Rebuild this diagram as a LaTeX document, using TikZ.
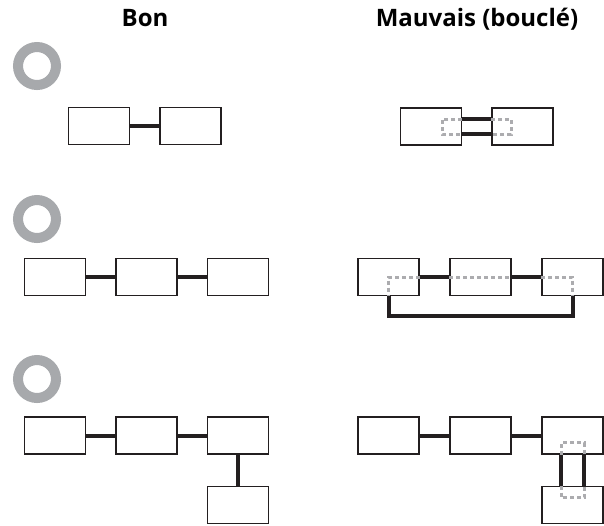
\documentclass[tikz,border=0pt]{standalone}
\usepackage{fontspec}
\setmainfont{Open Sans}
\usepackage{tikz}
\usetikzlibrary{positioning,calc}
\definecolor{ringgray}{RGB}{167,169,172}
\definecolor{loopgray}{RGB}{172,172,175}
\definecolor{linedark}{RGB}{35,31,32}

\begin{document}
\begin{tikzpicture}[x=1pt,y=-1pt,
    box/.style={draw=linedark,line width=1.6pt,fill=white,rectangle,
      minimum width=61pt,minimum height=37pt,inner sep=0pt},
    link/.style={draw=linedark,line width=4pt},
    loopline/.style={draw=loopgray,line width=3pt,dash pattern=on 4pt off 3pt},
    ring/.style={draw=ringgray,line width=10pt},
    heading/.style={font=\bfseries\fontsize{24}{28}\selectfont,anchor=base}]
  \useasboundingbox (0,0) rectangle (604,525);

  % ---- headings ----
  \node[heading] (hgood) at (145,26) {Bon};
  \node[heading] (hbad) at (477,26) {Mauvais (bouclé)};

  % ---- rings ----
  \foreach \r/\cy in {1/66,2/219,3/379}{
    \draw[ring] (37,\cy) circle (19);
  }

  % ---- row 1 ----
  \node[box] (g1a) at (99,126) {};
  \node[box] (g1b) at (190.5,126) {};
  \draw[link] (g1a) -- (g1b);

  \node[box] (b1a) at (431,126.5) {};
  \node[box] (b1b) at (522.5,126.5) {};
  \draw[link] ([yshift=7.5pt]b1a.east) -- ([yshift=7.5pt]b1b.west);
  \draw[link] ([yshift=-7.5pt]b1a.east) -- ([yshift=-7.5pt]b1b.west);
  \draw[loopline] ([yshift=7.5pt]b1a.east) -- ++(-20,0) -- ++(0,15) -- ++(20,0);
  \draw[loopline] ([yshift=7.5pt]b1b.west) -- ++(20,0) -- ++(0,15) -- ++(-20,0);

  % ---- row 2 ----
  \node[box] (g2a) at (55,277) {};
  \node[box] (g2b) at (146.5,277) {};
  \node[box] (g2c) at (238,277) {};
  \draw[link] (g2a) -- (g2b);
  \draw[link] (g2b) -- (g2c);

  \node[box] (b2a) at (388.5,277) {};
  \node[box] (b2b) at (480.5,277) {};
  \node[box] (b2c) at (572.5,277) {};
  \draw[link] (b2a) -- (b2b);
  \draw[link] (b2b) -- (b2c);
  \draw[link] (b2a.south) -- ++(0,20) -| (b2c.south);
  \draw[loopline] (b2a.east) -- (b2a.center) -- (b2a.south);
  \draw[loopline] (b2b.west) -- (b2b.east);
  \draw[loopline] (b2c.west) -- (b2c.center) -- (b2c.south);

  % ---- row 3 ----
  \node[box] (g3a) at (55,435.5) {};
  \node[box] (g3b) at (146.5,435.5) {};
  \node[box] (g3c) at (238,435.5) {};
  \node[box] (g3d) at (238,505) {};
  \draw[link] (g3a) -- (g3b);
  \draw[link] (g3b) -- (g3c);
  \draw[link] (g3c) -- (g3d);

  \node[box] (b3a) at (388.5,435.5) {};
  \node[box] (b3b) at (480.5,435.5) {};
  \node[box] (b3c) at (572.5,435.5) {};
  \node[box] (b3d) at (572.5,505) {};
  \draw[link] (b3a) -- (b3b);
  \draw[link] (b3b) -- (b3c);
  \draw[link] ([xshift=-11.5pt]b3c.south) -- ([xshift=-11.5pt]b3d.north);
  \draw[link] ([xshift=11.5pt]b3c.south) -- ([xshift=11.5pt]b3d.north);
  \draw[loopline] ([xshift=-11.5pt]b3c.south) -- ++(0,-12) -- ++(23,0) -- ++(0,12);
  \draw[loopline] ([xshift=-11.5pt]b3d.north) -- ++(0,12) -- ++(23,0) -- ++(0,-12);
\end{tikzpicture}
\end{document}
